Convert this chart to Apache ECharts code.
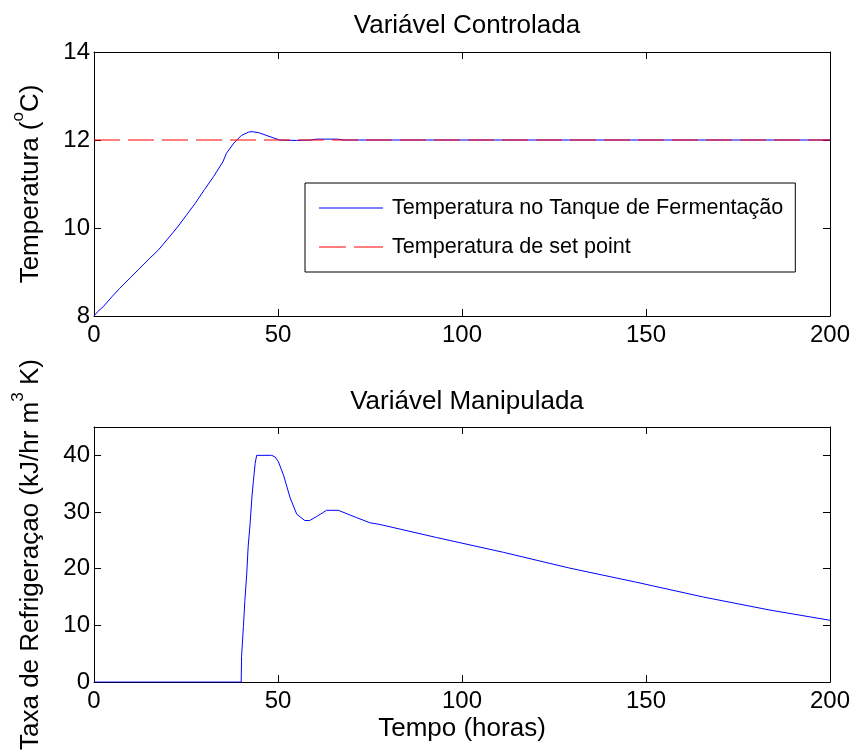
<!DOCTYPE html>
<html>
<head>
<meta charset="utf-8">
<script src="https://cdn.jsdelivr.net/npm/echarts@6/dist/echarts.min.js"></script>
<style>
  html, body { margin: 0; padding: 0; background: #fff; }
  #chart { width: 854px; height: 753px; }
</style>
</head>
<body>
<div id="chart"></div>
<script>
// temperatura no tanque
var tempoTemp = [0, 1, 2.5, 5, 7, 10, 12, 15, 17.5, 20, 22.5, 25, 27.5, 30, 32.5, 35, 36, 38, 40, 42, 43, 45, 47, 48.7, 50.5, 55, 59, 60.5, 66, 68, 100, 150, 200];
var temperatura = [8.0, 8.1, 8.21, 8.45, 8.63, 8.88, 9.05, 9.3, 9.5, 9.75, 10.0, 10.28, 10.56, 10.87, 11.17, 11.5, 11.7, 11.93, 12.1, 12.18, 12.19, 12.16, 12.1, 12.05, 12.0, 11.99, 12.0, 12.02, 12.02, 12.0, 12.0, 12.0, 12.0];

// set point
var tempoSet = [0, 200];
var setPoint = [12, 12];

// taxa de refrigeracao
var tempoTaxa = [0, 40, 40.1, 40.6, 41.0, 41.5, 41.9, 42.4, 42.9, 43.3, 43.8, 44.2, 48.3, 49.2, 50.1, 51.5, 53.3, 55.1, 57.3, 58.6, 60.5, 63.2, 66.4, 71.4, 75, 77.7, 93.1, 111.2, 129.3, 147.5, 165.6, 183.7, 200];
var taxa = [0, 0, 4.5, 9.8, 14.4, 19.1, 24.0, 27.8, 32.5, 35.4, 38.6, 40, 40, 39.7, 38.9, 36.5, 32.5, 29.6, 28.5, 28.5, 29.2, 30.3, 30.3, 29.0, 28.1, 27.8, 25.5, 22.9, 20.1, 17.6, 15.0, 12.7, 10.9];

function pares(xs, ys) {
  return xs.map(function (x, i) { return [x, ys[i]]; });
}

var fonte = 'Liberation Sans, Arial, sans-serif';
var preto = '#000';

function eixoX(grid, pos, comLabel, nome) {
  return {
    type: 'value', gridIndex: grid, position: pos,
    min: 0, max: 200, interval: 50,
    name: nome || '', nameLocation: 'middle', nameGap: 34,
    nameTextStyle: { fontFamily: fonte, fontSize: 26, color: preto },
    axisLine: { show: true, onZero: false, lineStyle: { color: preto, width: 1 } },
    axisTick: { show: true, inside: true, length: 7, lineStyle: { color: preto } },
    axisLabel: { show: comLabel, margin: 7, fontFamily: fonte, fontSize: 24, color: preto },
    splitLine: { show: false }
  };
}

function eixoY(grid, pos, min, max, intervalo, comLabel, nome) {
  return {
    type: 'value', gridIndex: grid, position: pos,
    min: min, max: max, interval: intervalo,
    name: nome || '', nameLocation: 'middle', nameGap: 50, nameRotate: 90,
    nameTextStyle: {
      fontFamily: fonte, fontSize: 26, color: preto,
      rich: {
        n: { fontFamily: fonte, fontSize: 26, color: preto, lineHeight: 34, verticalAlign: 'bottom' },
        s: { fontFamily: fonte, fontSize: 17, color: preto, verticalAlign: 'top' }
      }
    },
    axisLine: { show: true, onZero: false, lineStyle: { color: preto, width: 1 } },
    axisTick: { show: true, inside: true, length: 7, lineStyle: { color: preto } },
    axisLabel: {
      show: comLabel, margin: 4, fontFamily: fonte, fontSize: 24, color: preto,
      formatter: function (v) { return v > 40 && max === 45 ? '' : String(v); }
    },
    splitLine: { show: false }
  };
}

var myChart = echarts.init(document.getElementById('chart'), null, { renderer: 'canvas' });

var option = {
  backgroundColor: '#fff',
  animation: false,
  title: [
    { text: 'Variável Controlada', left: 462, top: 8, textAlign: 'center',
      textStyle: { fontFamily: fonte, fontSize: 26, fontWeight: 'normal', color: preto } },
    { text: 'Variável Manipulada', left: 462, top: 384, textAlign: 'center',
      textStyle: { fontFamily: fonte, fontSize: 26, fontWeight: 'normal', color: preto } }
  ],
  grid: [
    { left: 94, top: 52, width: 736, height: 264, show: false },
    { left: 94, top: 427, width: 736, height: 256, show: false }
  ],
  legend: {
    orient: 'vertical',
    left: 305, top: 183,
    padding: [14, 12, 14, 14],
    itemGap: 17,
    itemWidth: 64, itemHeight: 1,
    backgroundColor: '#fff',
    borderColor: preto, borderWidth: 1,
    textStyle: { fontFamily: fonte, fontSize: 21.6, color: preto, padding: [0, 0, 0, 4] },
    data: [
      { name: 'Temperatura no Tanque de Fermentação', icon: 'path://M0,0h64v1h-64z' },
      { name: 'Temperatura de set point', icon: 'path://M0,0h27v1h-27zM35,0h29v1h-29z' }
    ]
  },
  xAxis: [
    eixoX(0, 'bottom', true),
    eixoX(0, 'top', false),
    eixoX(1, 'bottom', true, 'Tempo (horas)'),
    eixoX(1, 'top', false)
  ],
  yAxis: [
    eixoY(0, 'left', 8, 14, 2, true, '{n|Temperatura (}{s|o}{n|C)}'),
    eixoY(0, 'right', 8, 14, 2, false),
    eixoY(1, 'left', 0, 45, 10, true, '{n|Taxa de Refrigeraçao (kJ/hr m}{s|3}{n| K)}'),
    eixoY(1, 'right', 0, 45, 10, false)
  ],
  series: [
    {
      name: 'Temperatura no Tanque de Fermentação',
      type: 'line', xAxisIndex: 0, yAxisIndex: 0,
      data: pares(tempoTemp, temperatura),
      showSymbol: false, symbol: 'none',
      lineStyle: { color: '#0000ff', width: 1 },
      itemStyle: { color: '#0000ff' }
    },
    {
      name: 'Temperatura de set point',
      type: 'line', xAxisIndex: 0, yAxisIndex: 0,
      data: pares(tempoSet, setPoint),
      showSymbol: false, symbol: 'none',
      lineStyle: { color: '#ff0000', width: 1, type: [26, 8] },
      itemStyle: { color: '#ff0000' }
    },
    {
      name: 'Taxa',
      type: 'line', xAxisIndex: 2, yAxisIndex: 2,
      data: pares(tempoTaxa, taxa),
      showSymbol: false, symbol: 'none',
      lineStyle: { color: '#0000ff', width: 1 },
      itemStyle: { color: '#0000ff' }
    }
  ]
};

myChart.setOption(option);
</script>
</body>
</html>
